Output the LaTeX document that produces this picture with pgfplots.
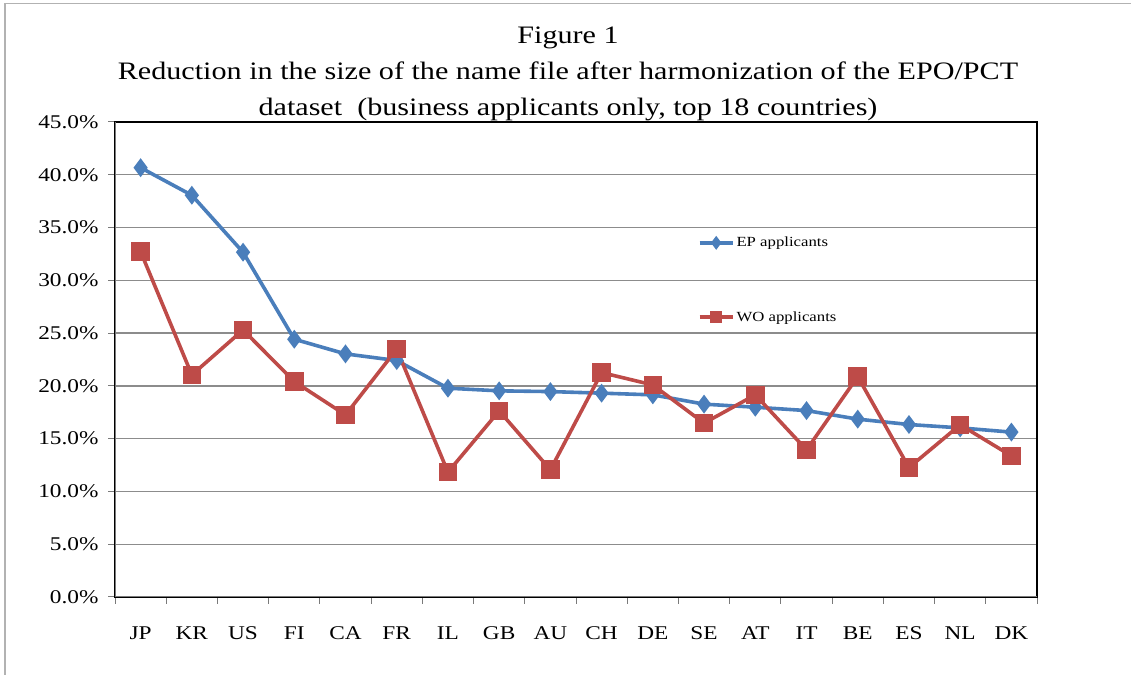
\documentclass[border=0pt]{standalone}
\usepackage{fontspec}
\setmainfont{Liberation Serif}[FakeStretch=1.2]
\usepackage{pgfplots}
\pgfplotsset{compat=1.18}
\definecolor{epblue}{HTML}{4A7EBB}
\definecolor{wored}{HTML}{BE4B48}
\definecolor{gridgray}{HTML}{8C8C8C}
\definecolor{axgray}{HTML}{7A7A7A}
\begin{document}
\begin{tikzpicture}[x=1bp,y=1bp]
\path[use as bounding box] (0,0) rectangle (1131,675);
\draw[gray!60, line width=1.5bp] (5,0) -- (5,671.5) -- (1131,671.5);
\begin{axis}[
  at={(115bp,78bp)}, anchor=south west,
  scale only axis, width=922bp, height=475bp,
  xmin=-0.5, xmax=17.5, ymin=0, ymax=45,
  xtick={-0.5,0.5,...,17.5}, x tick label as interval,
  xticklabels={JP,KR,US,FI,CA,FR,IL,GB,AU,CH,DE,SE,AT,IT,BE,ES,NL,DK},
  ytick={0,5,...,45},
  /pgf/number format/assume math mode=true,
  yticklabel={\pgfmathprintnumber[fixed,fixed zerofill,precision=1]{\tick}\%},
  tick label style={font=\fontsize{19.5}{22}\selectfont},
  xticklabel style={yshift=-19bp},
  yticklabel style={xshift=-6bp},
  major tick length=7bp, tick align=outside, tick pos=left,
  tick style={axgray, line width=1bp},
  ymajorgrids, major grid style={gridgray, line width=1.3bp},
  axis line style={black, line width=1.3bp},
  title={Figure 1\\Reduction in the size of the name file after harmonization of the EPO/PCT\\dataset\ \ (business applicants only, top 18 countries)},
  title style={align=center, font=\fontsize{25.2}{36}\selectfont, at={(0.5,1)}, anchor=south, xshift=-8bp, yshift=-8bp},
  legend style={at={(0.632,0.762)}, anchor=north west, draw=none, fill=none,
    font=\fontsize{14}{16}\selectfont, row sep=59bp, inner sep=0pt},
  legend cell align=left,
  legend image code/.code={\draw[mark repeat=2,mark phase=2,#1,mark size=4bp] plot coordinates {(0bp,0bp)(16.5bp,0bp)(33bp,0bp)};},
]
\addplot[epblue, line width=3.6bp, mark=diamond*, mark size=6.5bp] coordinates {
 (0,40.67) (1,38.06) (2,32.66) (3,24.42) (4,23.03) (5,22.40) (6,19.78) (7,19.53) (8,19.46)
 (9,19.31) (10,19.15) (11,18.27) (12,17.98) (13,17.66) (14,16.85) (15,16.34) (16,16.02) (17,15.62)};
\addlegendentry{EP applicants}
\addplot[wored, line width=3.6bp, mark=square*, mark size=7.5bp] coordinates {
 (0,32.72) (1,21.04) (2,25.30) (3,20.41) (4,17.25) (5,23.48) (6,11.83) (7,17.63) (8,12.05)
 (9,21.26) (10,20.09) (11,16.47) (12,19.15) (13,13.94) (14,20.88) (15,12.26) (16,16.31) (17,13.37)};
\addlegendentry{WO applicants}
\draw[axgray, line width=1.5bp] (rel axis cs:0,1) -- (rel axis cs:0,0) -- (rel axis cs:1,0);
\end{axis}
\end{tikzpicture}
\end{document}
